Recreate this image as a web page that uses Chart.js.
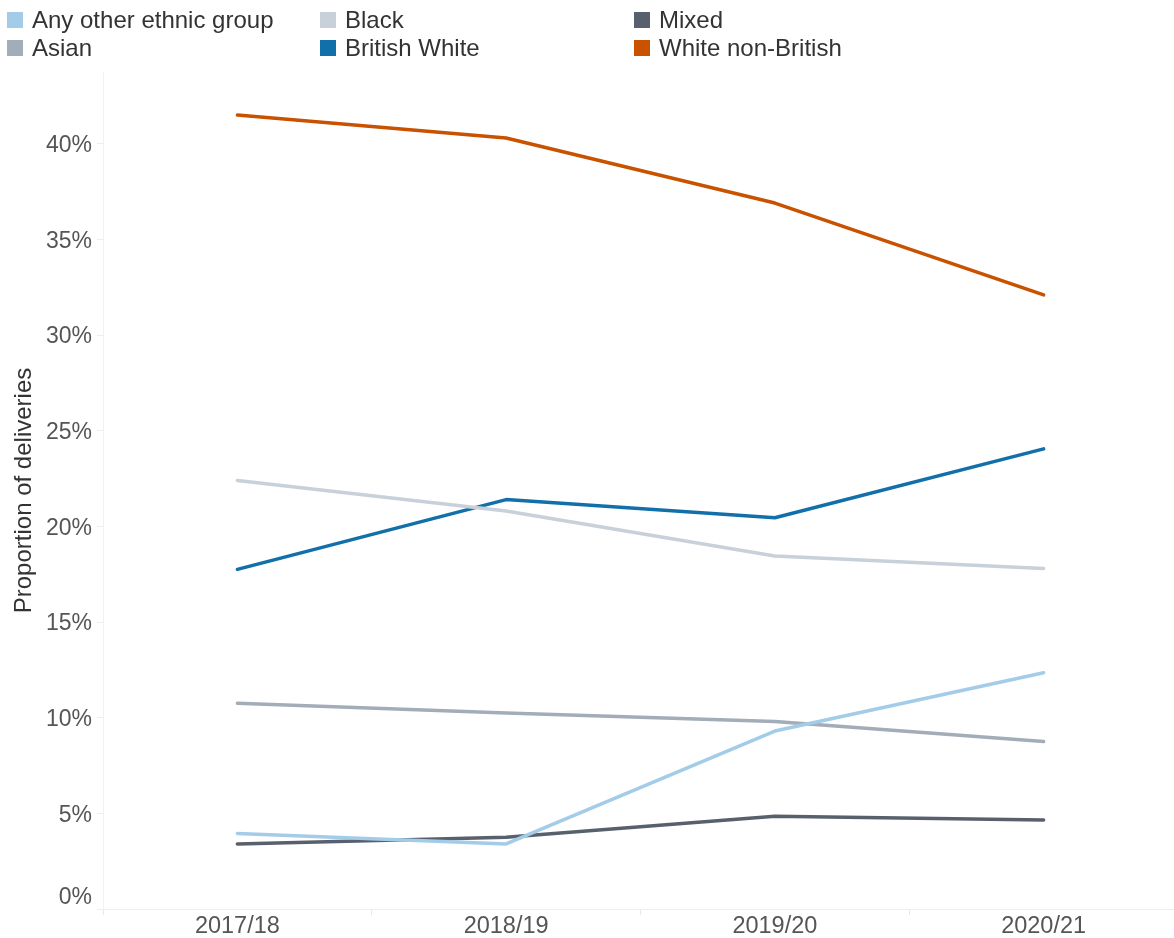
<!DOCTYPE html>
<html>
<head>
<meta charset="utf-8">
<script src="https://cdn.jsdelivr.net/npm/chart.js@4"></script>
<style>
  html, body { margin: 0; padding: 0; background: #fff; overflow: hidden; }
  #wrap { position: relative; width: 1174px; height: 938px; overflow: hidden; }
  #chartBox { position: absolute; left: 0; top: 0; width: 1178px; height: 938px; }
  #legend { position: absolute; left: 0; top: 0; width: 1174px; height: 70px; font-family: "Liberation Sans", Arial, sans-serif; font-size: 24px; color: #333; }
  .item { position: absolute; display: flex; align-items: center; height: 28px; white-space: nowrap; }
  .box { width: 16px; height: 16px; margin-right: 9px; }
</style>
</head>
<body>
<div id="wrap">
  <div id="chartBox"><canvas id="c" width="1178" height="938"></canvas></div>
  <div id="legend"></div>
</div>
<script>
const categories = ['2017/18', '2018/19', '2019/20', '2020/21'];
const seriesNames = ['Any other ethnic group', 'Asian', 'Black', 'British White', 'Mixed', 'White non-British'];
const anyOther = [3.95, 3.4, 9.3, 12.35];
const asian = [10.75, 10.25, 9.8, 8.75];
const black = [22.4, 20.8, 18.45, 17.8];
const britishWhite = [17.75, 21.4, 20.45, 24.05];
const mixed = [3.4, 3.75, 4.85, 4.65];
const whiteNonBritish = [41.5, 40.3, 36.9, 32.1];
const colors = ['#a3cce9', '#a3acb9', '#c8d0d9', '#1170aa', '#57606c', '#c85200'];
const yTicks = [0, 5, 10, 15, 20, 25, 30, 35, 40];

const values = [anyOther, asian, black, britishWhite, mixed, whiteNonBritish];
const datasets = seriesNames.map((n, i) => ({
  label: n,
  data: values[i],
  borderColor: colors[i],
  backgroundColor: colors[i],
  borderWidth: 3.5,
  pointRadius: 0,
  pointHoverRadius: 0,
  tension: 0,
  borderCapStyle: 'round',
  borderJoinStyle: 'round'
}));

// HTML legend: column-major, 2 rows
const legend = document.getElementById('legend');
const colX = [7, 320, 634];
const rowY = [6, 34];
seriesNames.forEach((n, i) => {
  const col = Math.floor(i / 2), row = i % 2;
  const d = document.createElement('div');
  d.className = 'item';
  d.style.left = colX[col] + 'px';
  d.style.top = rowY[row] + 'px';
  const b = document.createElement('span');
  b.className = 'box';
  b.style.background = colors[i];
  const t = document.createElement('span');
  t.textContent = n;
  d.appendChild(b); d.appendChild(t);
  legend.appendChild(d);
});

const FONT = '"Liberation Sans", Arial, sans-serif';
new Chart(document.getElementById('c'), {
  type: 'line',
  data: { labels: categories, datasets },
  options: {
    responsive: false,
    animation: false,
    layout: { padding: { top: 72, left: 0, right: 0, bottom: 0 } },
    plugins: { legend: { display: false }, tooltip: { enabled: false } },
    scales: {
      x: {
        type: 'category',
        offset: true,
        grid: { offset: true, drawOnChartArea: false, tickLength: 6, color: '#e8e8e8' },
        border: { display: true, color: '#eeeeee', width: 1 },
        ticks: { color: '#555', padding: 0, maxRotation: 0, font: { family: FONT, size: 23.5, lineHeight: 1 } },
        afterFit: (s) => { s.height = 29; s.paddingLeft = 0; s.paddingRight = 0; }
      },
      y: {
        min: 0,
        max: 43.75,
        afterBuildTicks: (s) => { s.ticks = yTicks.map(v => ({ value: v })); },
        grid: { drawOnChartArea: false, tickLength: 6, color: '#eeeeee' },
        border: { display: true, color: '#f2f2f2', width: 1 },
        ticks: {
          color: '#555',
          padding: 5,
          labelOffset: 2,
          font: { family: FONT, size: 23, lineHeight: 1.2 },
          callback: (v) => v === 0 ? ['0%', ''] : v + '%'
        },
        title: {
          display: true,
          text: 'Proportion of deliveries',
          color: '#333',
          font: { family: FONT, size: 24 },
          padding: { top: 10, bottom: 0 }
        },
        afterFit: (s) => { s.width = 103; s.paddingTop = 0; s.paddingBottom = 0; }
      }
    }
  }
});
</script>
</body>
</html>
